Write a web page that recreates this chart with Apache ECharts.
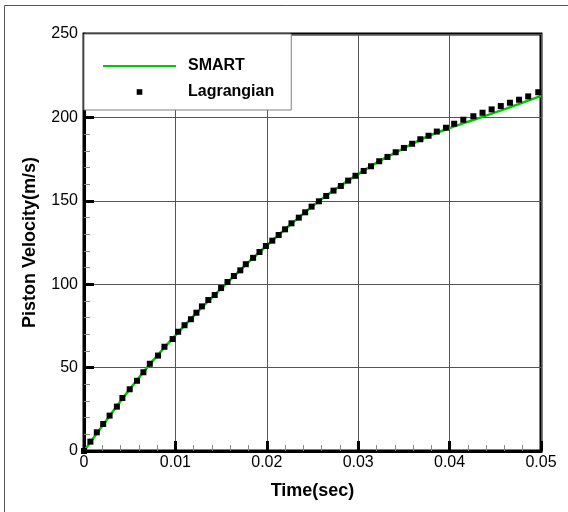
<!DOCTYPE html>
<html>
<head>
<meta charset="utf-8">
<script src="https://cdn.jsdelivr.net/npm/echarts@6/dist/echarts.min.js"></script>
<style>
  html, body { margin: 0; padding: 0; background: #fff; }
  #chart { width: 568px; height: 512px; }
</style>
</head>
<body>
<div id="chart"></div>
<script>
// SMART 计算曲线
var smartTime = [0, 0.0025, 0.005, 0.0075, 0.01, 0.0125, 0.015, 0.0175, 0.02, 0.0225, 0.025,
                 0.0275, 0.03, 0.0325, 0.035, 0.0375, 0.04, 0.0425, 0.045, 0.0475, 0.05];
var smartVel = [0, 18.8, 37.0, 53.9, 69.3, 83.9, 97.3, 110.6, 123.2, 135.3, 146.8,
                156.9, 166.0, 174.4, 181.5, 188.4, 193.6, 198.3, 203.0, 207.9, 212.9];

// Lagrangian 点
var lagTime = [0, 0.0007, 0.0014, 0.0021, 0.0028, 0.0036, 0.0042, 0.0050, 0.0058, 0.0065,
               0.0072, 0.0081, 0.0088, 0.0097, 0.0103, 0.0110, 0.0117, 0.0123, 0.0129, 0.0136,
               0.0143, 0.0150, 0.0157, 0.0164, 0.0171, 0.0177, 0.0185, 0.0192, 0.0199, 0.0206,
               0.0213, 0.0220, 0.0227, 0.0235, 0.0242, 0.0249, 0.0257, 0.0265, 0.0273, 0.0281,
               0.0289, 0.0297, 0.0306, 0.0314, 0.0323, 0.0332, 0.0341, 0.0350, 0.0359, 0.0368,
               0.0377, 0.0386, 0.0396, 0.0405, 0.0415, 0.0426, 0.0436, 0.0446, 0.0456, 0.0466,
               0.0476, 0.0486, 0.0497];
var lagVel = [0, 5.6, 11.2, 16.2, 21.2, 26.6, 31.8, 37.0, 42.1, 47.2,
              52.3, 57.2, 62.5, 67.1, 71.5, 75.4, 79.0, 82.9, 86.7, 90.5,
              93.5, 97.7, 101.3, 104.9, 108.3, 112.0, 115.8, 119.3, 122.9, 126.1,
              129.5, 132.9, 136.5, 139.9, 143.1, 146.5, 149.7, 152.9, 156.1, 158.9,
              162.1, 165.0, 167.9, 170.7, 173.7, 176.3, 179.1, 181.7, 184.2, 186.9,
              189.0, 191.5, 193.8, 196.2, 198.6, 200.7, 202.8, 204.8, 206.8, 208.8,
              210.6, 212.6, 215.1];

var seriesNames = ['SMART', 'Lagrangian'];

function pairs(xs, ys) {
    return xs.map(function (x, i) { return [x, ys[i]]; });
}

var font = 'Liberation Sans, Arial, sans-serif';

var chart = echarts.init(document.getElementById('chart'));

// 坐标轴通用样式（刻度朝内）
function axisStyle() {
    return {
        axisLine: { lineStyle: { color: '#000', width: 3 } },
        axisTick: { inside: true, length: 10, lineStyle: { color: '#000', width: 3 } },
        minorTick: { show: true, splitNumber: 5, length: 6, lineStyle: { color: '#888', width: 1 } },
        splitLine: { show: true, lineStyle: { color: '#555', width: 1 } },
        axisLabel: { fontFamily: font, fontSize: 16, color: '#000' },
        nameTextStyle: { fontFamily: font, fontSize: 18, fontWeight: 'bold', color: '#000' }
    };
}

var xAxis = axisStyle();
xAxis.type = 'value';
xAxis.min = 0;
xAxis.max = 0.05;
xAxis.interval = 0.01;
xAxis.name = 'Time(sec)';
xAxis.nameLocation = 'middle';
xAxis.nameGap = 31;
xAxis.axisLabel.margin = 4;

var yAxis = axisStyle();
yAxis.type = 'value';
yAxis.min = 0;
yAxis.max = 250;
yAxis.interval = 50;
yAxis.name = 'Piston Velocity(m/s)';
yAxis.nameLocation = 'middle';
yAxis.nameGap = 45;
yAxis.axisLabel.margin = 6;

var option = {
    backgroundColor: '#fff',
    animation: false,
    grid: {
        left: 84, right: 27, top: 34, bottom: 61,
        show: true, borderColor: '#000', borderWidth: 3
    },
    graphic: [{
        type: 'rect',
        shape: { x: 4.5, y: 5.5, width: 700, height: 700 },
        style: { fill: 'none', stroke: '#555', lineWidth: 1 },
        silent: true
    }],
    legend: {
        left: 84, top: 34,
        orient: 'vertical',
        padding: [24, 17, 10, 18],
        itemWidth: 73, itemHeight: 7, itemGap: 10,
        backgroundColor: '#fff', borderColor: '#808080', borderWidth: 1,
        textStyle: {
            fontFamily: font, fontWeight: 'bold', fontSize: 16, color: '#000',
            lineHeight: 16, padding: [0, 0, 0, 7]
        },
        data: [
            { name: seriesNames[0], itemStyle: { opacity: 0 } },
            { name: seriesNames[1] }
        ]
    },
    xAxis: xAxis,
    yAxis: yAxis,
    series: [
        {
            name: seriesNames[0],
            type: 'line',
            smooth: 0.3,
            symbol: 'none',
            color: '#00c800',
            lineStyle: { color: '#00c800', width: 2.5 },
            data: pairs(smartTime, smartVel)
        },
        {
            name: seriesNames[1],
            type: 'line',
            symbol: 'rect',
            symbolSize: 6,
            showSymbol: true,
            color: '#000',
            itemStyle: { color: '#000' },
            lineStyle: { width: 0, opacity: 0 },
            data: pairs(lagTime, lagVel)
        }
    ]
};

chart.setOption(option);
</script>
</body>
</html>
